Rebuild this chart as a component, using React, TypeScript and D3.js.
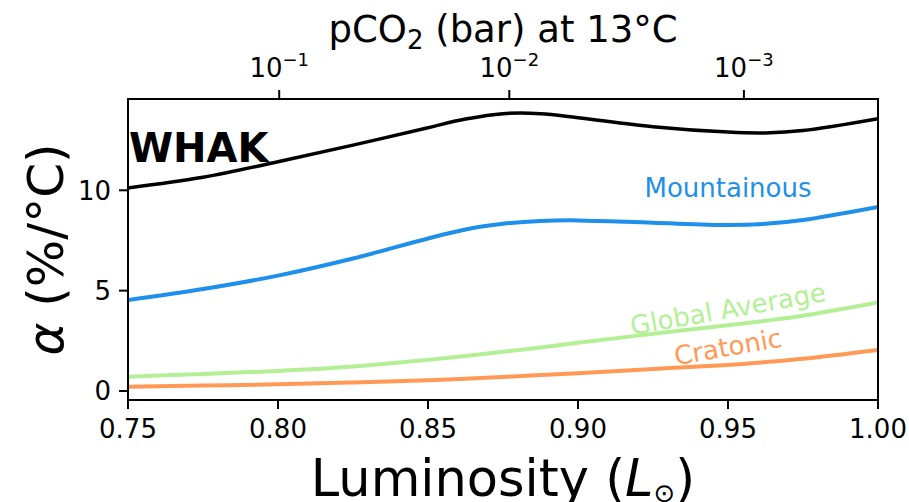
import React, { useEffect, useRef } from 'react';
import * as d3 from 'd3';

// luminosity samples (L_sun)
const lum = [0.75, 0.775, 0.8, 0.825, 0.85, 0.8625, 0.875, 0.8875, 0.9, 0.925, 0.95, 0.9625, 0.975, 1.0];

// alpha (%/°C) for each weathering regime
const whak = [10.12, 10.65, 11.42, 12.25, 13.12, 13.55, 13.82, 13.82, 13.62, 13.17, 12.9, 12.86, 12.98, 13.57];
const mountainous = [4.53, 5.08, 5.75, 6.6, 7.6, 8.05, 8.33, 8.47, 8.5, 8.38, 8.27, 8.33, 8.52, 9.17];
const globalAvg = [0.71, 0.85, 1.0, 1.22, 1.55, 1.74, 1.95, 2.17, 2.4, 2.85, 3.28, 3.5, 3.75, 4.41];
const cratonic = [0.21, 0.27, 0.33, 0.42, 0.53, 0.61, 0.7, 0.79, 0.88, 1.1, 1.3, 1.44, 1.6, 2.04];

const xTicks = [0.75, 0.8, 0.85, 0.9, 0.95, 1.0];
const yTicks = [0, 5, 10];
// top axis: pCO2 ticks placed at the luminosity they correspond to
const topTickLum = [0.8004, 0.8771, 0.9553];
const topTickExp = ['−1', '−2', '−3'];

const W = 909;
const H = 502;
const font = 'DejaVu Sans, sans-serif';

const App: React.FC = () => {
  const ref = useRef<SVGSVGElement>(null);

  useEffect(() => {
    if (!ref.current) return;
    const svg = d3.select(ref.current);
    svg.selectAll('*').remove();

    const left = 128, right = 878, top = 99, bottom = 400;

    const x = d3.scaleLinear().domain([0.75, 1.0]).range([left, right]);
    const y = d3.scaleLinear().domain([-0.45, 14.55]).range([bottom, top]);

    const line = d3.line<number>()
      .x((d, i) => x(lum[i]))
      .y(d => y(d))
      .curve(d3.curveCatmullRom.alpha(0.5));

    const series = [
      { vals: cratonic, color: '#ff9955', width: 4 },
      { vals: globalAvg, color: '#b3f095', width: 4 },
      { vals: mountainous, color: '#1e90ec', width: 4 },
      { vals: whak, color: '#000000', width: 3.5 },
    ];

    const clip = svg.append('defs').append('clipPath').attr('id', 'plotclip');
    clip.append('rect').attr('x', left).attr('y', top).attr('width', right - left).attr('height', bottom - top);

    const g = svg.append('g').attr('clip-path', 'url(#plotclip)');
    series.forEach(s => {
      g.append('path')
        .attr('d', line(s.vals))
        .attr('fill', 'none')
        .attr('stroke', s.color)
        .attr('stroke-width', s.width);
    });

    // frame
    svg.append('rect')
      .attr('x', left).attr('y', top)
      .attr('width', right - left).attr('height', bottom - top)
      .attr('fill', 'none').attr('stroke', '#000').attr('stroke-width', 2);

    // bottom ticks
    xTicks.forEach(t => {
      svg.append('line')
        .attr('x1', x(t)).attr('x2', x(t))
        .attr('y1', bottom).attr('y2', bottom + 9)
        .attr('stroke', '#000').attr('stroke-width', 2);
      svg.append('text')
        .attr('x', x(t)).attr('y', bottom + 38)
        .attr('text-anchor', 'middle')
        .attr('font-family', font).attr('font-size', 26)
        .text(d3.format('.2f')(t));
    });

    // left ticks
    yTicks.forEach(t => {
      svg.append('line')
        .attr('x1', left - 9).attr('x2', left)
        .attr('y1', y(t)).attr('y2', y(t))
        .attr('stroke', '#000').attr('stroke-width', 2);
      svg.append('text')
        .attr('x', left - 17).attr('y', y(t))
        .attr('dy', '0.36em')
        .attr('text-anchor', 'end')
        .attr('font-family', font).attr('font-size', 26)
        .text(t);
    });

    // top ticks
    topTickLum.forEach((t, i) => {
      svg.append('line')
        .attr('x1', x(t)).attr('x2', x(t))
        .attr('y1', top - 9).attr('y2', top)
        .attr('stroke', '#000').attr('stroke-width', 2);
      const lbl = svg.append('text')
        .attr('x', x(t)).attr('y', top - 22)
        .attr('text-anchor', 'middle')
        .attr('font-family', font).attr('font-size', 26);
      lbl.append('tspan').text('10');
      lbl.append('tspan').attr('dy', -11).attr('font-size', 18).text(topTickExp[i]);
    });

    // titles
    const title = svg.append('text')
      .attr('x', (left + right) / 2).attr('y', 42)
      .attr('text-anchor', 'middle')
      .attr('font-family', font).attr('font-size', 37);
    title.append('tspan').text('pCO');
    title.append('tspan').attr('dy', 7).attr('font-size', 26).text('2');
    title.append('tspan').attr('dy', -7).text(' (bar) at 13°C');

    const xl = svg.append('text')
      .attr('x', (left + right) / 2).attr('y', 496)
      .attr('text-anchor', 'middle')
      .attr('font-family', font).attr('font-size', 51);
    xl.append('tspan').text('Luminosity (');
    xl.append('tspan').attr('font-style', 'italic').text('L');
    xl.append('tspan').attr('dy', 6).attr('font-size', 26).text('⊙');
    xl.append('tspan').attr('dy', -6).text(')');

    const yl = svg.append('text')
      .attr('transform', `translate(63, ${(top + bottom) / 2}) rotate(-90)`)
      .attr('text-anchor', 'middle')
      .attr('font-family', font).attr('font-size', 50);
    yl.append('tspan').attr('font-style', 'italic').text('α');
    yl.append('tspan').text(' (%/°C)');

    // annotations
    svg.append('text')
      .attr('x', 129).attr('y', 162)
      .attr('font-family', font).attr('font-size', 40).attr('font-weight', 'bold')
      .text('WHAK');

    svg.append('text')
      .attr('x', 728).attr('y', 197)
      .attr('text-anchor', 'middle')
      .attr('font-family', font).attr('font-size', 26)
      .attr('fill', '#1e90ec')
      .text('Mountainous');

    svg.append('text')
      .attr('transform', 'translate(728, 309) rotate(-10)')
      .attr('text-anchor', 'middle').attr('dominant-baseline', 'central')
      .attr('font-family', font).attr('font-size', 26)
      .attr('fill', '#b3f095')
      .text('Global Average');

    svg.append('text')
      .attr('transform', 'translate(728, 347) rotate(-10)')
      .attr('text-anchor', 'middle').attr('dominant-baseline', 'central')
      .attr('font-family', font).attr('font-size', 26)
      .attr('fill', '#ff9955')
      .text('Cratonic');
  }, []);

  return (
    <svg
      ref={ref}
      width={W}
      height={H}
      style={{ position: 'absolute', left: 0, top: 0, background: '#fff' }}
    />
  );
};

export default App;
